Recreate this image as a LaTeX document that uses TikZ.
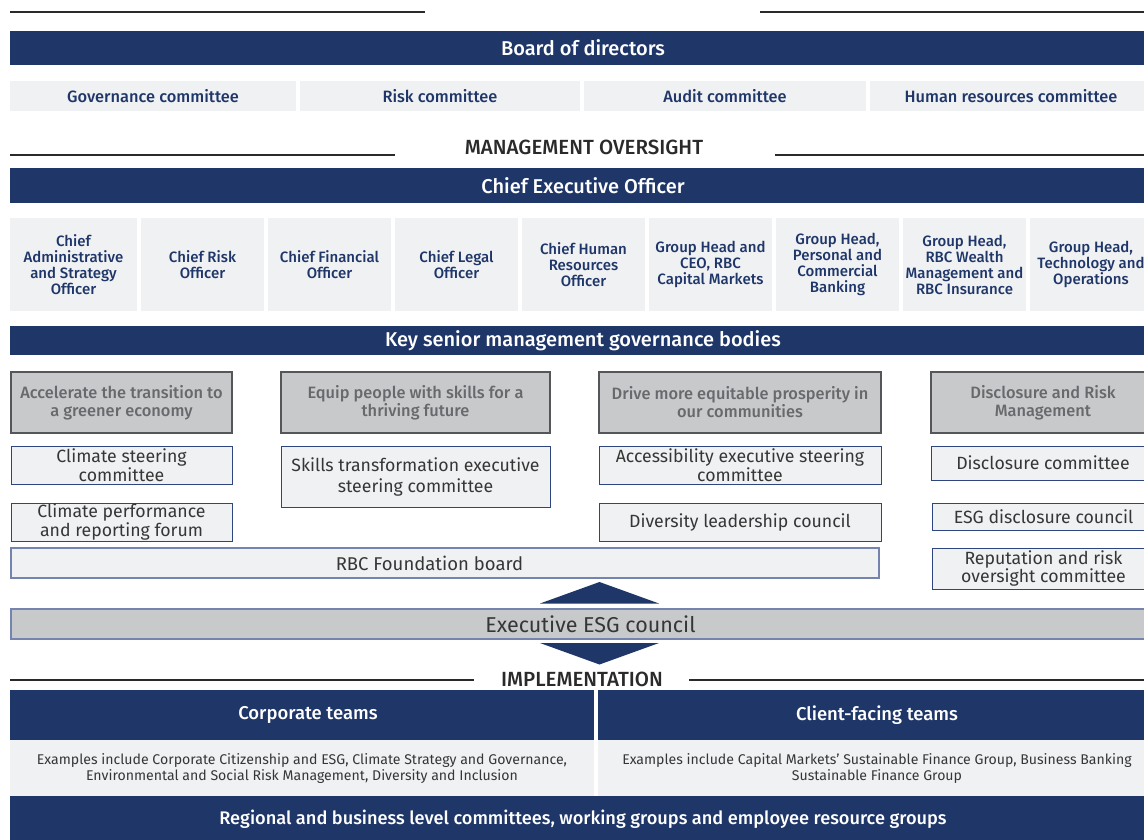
\documentclass[tikz,border=0pt]{standalone}
\usepackage{fontspec}
\setmainfont{Fira Sans}[BoldFont={Fira Sans Medium}]
\definecolor{rbcblue}{HTML}{1F3669}
\definecolor{lightfill}{HTML}{F0F1F3}
\definecolor{pillgray}{HTML}{C8C9CB}
\definecolor{pillborder}{HTML}{55565A}
\definecolor{pilltext}{HTML}{68696C}
\definecolor{subborder}{HTML}{2E4580}
\definecolor{softborder}{HTML}{7484AE}
\definecolor{textdark}{HTML}{363636}
\definecolor{ruleline}{HTML}{2A2A2A}
\newcommand{\rbox}[7]{\node[#1,minimum width={(#5-#3)*1pt},minimum height={(#6-#4)*1pt}] (#2) at ({(#3+#5)/2},{(#4+#6)/2}) {#7};}
\tikzset{
  bar/.style={fill=rbcblue,text=white,font=\bfseries\fontsize{20}{22}\selectfont,inner sep=0pt,align=center},
  ltbox/.style={fill=lightfill,text=rbcblue,font=\bfseries\fontsize{16.4}{18}\selectfont,inner sep=0pt,align=center},
  offbox/.style={fill=lightfill,text=rbcblue,font=\bfseries\fontsize{15}{16}\selectfont,inner sep=0pt,align=center},
  pillar/.style={fill=pillgray,draw=pillborder,line width=1.1pt,text=pilltext,font=\bfseries\fontsize{16.4}{18}\selectfont,inner sep=0pt,align=center},
  subbox/.style={fill=lightfill,draw=subborder,line width=1pt,text=textdark,font=\fontsize{17.7}{17}\selectfont,inner sep=0pt,align=center},
  softbox/.style={draw=softborder,line width=1.2pt,text=textdark,inner sep=0pt,align=center},
  headline/.style={text=ruleline,font=\bfseries\fontsize{20.5}{22}\selectfont,inner sep=0pt},
  rule/.style={draw=ruleline,line width=2.6pt},
  tri/.style={fill=rbcblue},
}
\begin{document}
\begin{tikzpicture}[x=1pt,y=-1pt]
\useasboundingbox (0,0) rectangle (1144,840);
\clip (0,0) rectangle (1144,840);
\fill[white] (0,0) rectangle (1144,840);
% top rules
\coordinate (t1) at (10,12); \coordinate (t2) at (425,12);
\coordinate (t3) at (760,12); \coordinate (t4) at (1150,12);
\draw[rule] (t1) -- (t2); \draw[rule] (t3) -- (t4);
% board
\rbox{bar}{board}{10}{31}{1156}{65}{Board of directors}
\rbox{ltbox}{gov}{10}{81}{296}{111}{Governance committee}
\rbox{ltbox}{risk}{300}{81}{580}{111}{Risk committee}
\rbox{ltbox}{audit}{584}{81}{866}{111}{Audit committee}
\rbox{ltbox}{hr}{870}{81}{1152}{111}{Human resources committee}
% management oversight
\node[headline] (mo) at (584,147) {MANAGEMENT OVERSIGHT};
\coordinate (m1) at (10,155); \coordinate (m2) at (395,155);
\coordinate (m3) at (775,155); \coordinate (m4) at (1150,155);
\draw[rule] (m1) -- (m2); \draw[rule] (m3) -- (m4);
\rbox{bar}{ceo}{10}{168}{1156}{203}{Chief Executive Officer}
% officers
\rbox{offbox}{o1}{10}{218}{137}{311}{Chief\\Administrative\\and Strategy\\Officer}
\rbox{offbox}{o2}{141}{218}{264}{311}{Chief Risk\\Officer}
\rbox{offbox}{o3}{268}{218}{391}{311}{Chief Financial\\Officer}
\rbox{offbox}{o4}{395}{218}{518}{311}{Chief Legal\\Officer}
\rbox{offbox}{o5}{522}{218}{645}{311}{Chief Human\\Resources\\Officer}
\rbox{offbox}{o6}{649}{218}{772}{311}{Group Head and\\CEO, RBC\\Capital Markets}
\rbox{offbox}{o7}{776}{218}{899}{311}{Group Head,\\Personal and\\Commercial\\Banking}
\rbox{offbox}{o8}{903}{218}{1026}{311}{Group Head,\\RBC Wealth\\Management and\\RBC Insurance}
\rbox{offbox}{o9}{1030}{218}{1152}{311}{Group Head,\\Technology and\\Operations}
% key senior
\rbox{bar}{key}{10}{326}{1156}{355}{Key senior management governance bodies}
% pillars
\rbox{pillar}{p1}{11}{372}{232}{433}{Accelerate the transition to\\a greener economy}
\rbox{pillar}{p2}{281}{372}{550}{433}{Equip people with skills for a\\thriving future}
\rbox{pillar}{p3}{599}{372}{881}{433}{Drive more equitable prosperity in\\our communities}
\rbox{pillar}{p4}{931}{372}{1155}{433}{Disclosure and Risk\\Management}
% sub boxes
\rbox{subbox}{s1}{11}{446}{232}{484}{Climate steering\\committee}
\rbox{subbox}{s2}{11}{503}{232}{541}{Climate performance\\and reporting forum}
\rbox{subbox,font=\fontsize{17.7}{21}\selectfont}{s3}{281}{446}{550}{507}{Skills transformation executive\\steering committee}
\rbox{subbox}{s4}{599}{446}{881}{484}{Accessibility executive steering\\committee}
\rbox{subbox}{s5}{599}{503}{881}{541}{Diversity leadership council}
\rbox{subbox}{s6}{931}{446}{1155}{480}{Disclosure committee}
\rbox{subbox}{s7}{932}{503}{1155}{530}{ESG disclosure council}
\rbox{subbox}{s8}{932}{548}{1155}{589}{Reputation and risk\\oversight committee}
\rbox{softbox,fill=lightfill,font=\fontsize{18.5}{20}\selectfont}{found}{11}{548}{879}{578}{RBC Foundation board\hspace*{31pt}}
% arrows and ESG council
\coordinate (ua) at (599.5,582); \coordinate (ub1) at (540,603.5); \coordinate (ub2) at (659,603.5);
\fill[tri] (ub1) -- (ua) -- (ub2) -- cycle;
\rbox{softbox,fill=pillgray,font=\fontsize{21.5}{23}\selectfont}{esg}{11}{609}{1156}{639}{\hspace*{14pt}Executive ESG council}
\coordinate (da) at (599.5,664.5); \coordinate (db1) at (540,643); \coordinate (db2) at (659,643);
\fill[tri] (db1) -- (da) -- (db2) -- cycle;
% implementation
\node[headline] (impl) at (582,679) {IMPLEMENTATION};
\coordinate (i1) at (10,680); \coordinate (i2) at (474,680);
\coordinate (i3) at (689,680); \coordinate (i4) at (1150,680);
\draw[rule] (i1) -- (i2); \draw[rule] (i3) -- (i4);
\rbox{bar,font=\bfseries\fontsize{18.5}{20}\selectfont}{corp}{10}{690}{594}{740}{\hspace*{12pt}Corporate teams}
\rbox{bar,font=\bfseries\fontsize{18.5}{20}\selectfont}{client}{598}{690}{1156}{740}{Client-facing teams}
\rbox{ltbox,text=textdark,font=\fontsize{14.1}{16}\selectfont}{corpex}{10}{740}{594}{796}{Examples include Corporate Citizenship and ESG, Climate Strategy and Governance,\\Environmental and Social Risk Management, Diversity and Inclusion}
\rbox{ltbox,text=textdark,font=\fontsize{14.1}{16}\selectfont}{clientex}{598}{740}{1156}{796}{Examples include Capital Markets’ Sustainable Finance Group, Business Banking\\Sustainable Finance Group}
\rbox{bar,font=\bfseries\fontsize{18.2}{20}\selectfont}{regional}{10}{796}{1156}{842}{Regional and business level committees, working groups and employee resource groups}
\end{tikzpicture}
\end{document}
